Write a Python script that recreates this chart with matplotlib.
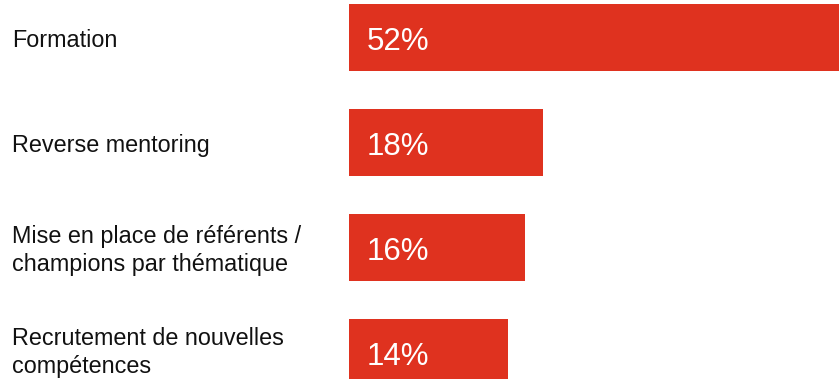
import matplotlib
matplotlib.use("Agg")
import matplotlib.pyplot as plt
from matplotlib.transforms import blended_transform_factory, offset_copy

categories = ["Formation", "Reverse mentoring",
              "Mise en place de référents /\nchampions par thématique",
              "Recrutement de nouvelles\ncompétences"]
values = [52, 18, 16, 14]
value_labels = ["52%", "18%", "16%", "14%"]

plt.rcParams['font.family'] = ['Liberation Sans', 'DejaVu Sans']
W, H = 839, 379
fig = plt.figure(figsize=(W / 100, H / 100), dpi=100)
ax = fig.add_axes([349 / W, 0, 1 - 349 / W, 1])

base = -4.2
color = "#DF321F"
ypos = list(range(len(values)))
ax.barh(ypos, [v - base for v in values], left=base, height=0.64, color=color)
ax.set_xlim(base, 52)
ax.set_ylim(3.25, -0.36)
ax.axis('off')

blend = blended_transform_factory(fig.transFigure, ax.transData)
for i, (y, c) in enumerate(zip(ypos, categories)):
    dy = -2.0 if i < len(categories) - 1 else 0.5
    tr = offset_copy(blend, fig=fig, x=0, y=dy, units='points')
    ax.text(12 / W, y, c, transform=tr, ha='left', va='center',
            fontsize=16.8, color='#111111', linespacing=1.28)

trans_val = offset_copy(ax.transData, fig=fig, x=12.5, y=-2.8, units='points')
for y, lab in zip(ypos, value_labels):
    ax.text(base, y, lab, transform=trans_val, ha='left', va='center',
            fontsize=22.5, color='white')

fig.savefig("out.png", dpi=100)
